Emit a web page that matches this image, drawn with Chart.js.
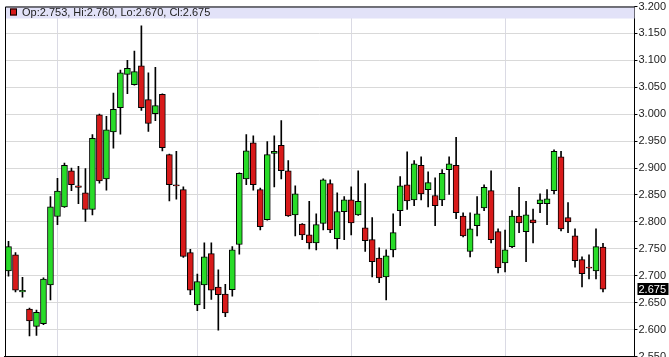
<!DOCTYPE html>
<html>
<head>
<meta charset="utf-8">
<script src="https://cdn.jsdelivr.net/npm/chart.js@4.4.1/dist/chart.umd.min.js"></script>
<style>
  html, body { margin: 0; padding: 0; background: #fff; overflow: hidden; }
  #wrap { position: relative; width: 669px; height: 363px; }
</style>
</head>
<body>
<div id="wrap"><canvas id="chart"></canvas></div>
<script>
// daily candles, oldest first
const open = [
  2.709, 2.739, 2.670, 2.638, 2.606, 2.611, 2.683, 2.810, 2.828, 2.895,
  2.867, 2.854, 2.823, 2.999, 2.880, 2.967, 3.012, 3.074, 3.055, 3.090,
  3.027, 3.001, 3.037, 2.925, 2.869, 2.860, 2.743, 2.646, 2.683, 2.741,
  2.679, 2.666, 2.674, 2.758, 2.880, 2.947, 2.860, 2.804, 2.927, 2.942,
  2.895, 2.813, 2.796, 2.776, 2.761, 2.797, 2.871, 2.769, 2.819, 2.841,
  2.813, 2.789, 2.767, 2.733, 2.698, 2.748, 2.821, 2.869, 2.841, 2.905,
  2.860, 2.849, 2.841, 2.897, 2.905, 2.811, 2.745, 2.793, 2.826, 2.858,
  2.782, 2.724, 2.754, 2.811, 2.782, 2.804, 2.834, 2.834, 2.858, 2.921,
  2.808, 2.774, 2.730, 2.716, 2.709, 2.753
];
const high = [
  2.764, 2.743, 2.697, 2.640, 2.636, 2.696, 2.847, 2.881, 2.909, 2.900,
  2.903, 2.899, 2.962, 3.000, 2.996, 3.039, 3.082, 3.100, 3.117, 3.164,
  3.077, 3.087, 3.038, 2.926, 2.931, 2.865, 2.749, 2.703, 2.761, 2.761,
  2.711, 2.684, 2.754, 2.891, 2.962, 2.960, 2.863, 2.949, 2.960, 2.988,
  2.914, 2.867, 2.797, 2.838, 2.815, 2.880, 2.878, 2.854, 2.847, 2.865,
  2.895, 2.871, 2.808, 2.752, 2.748, 2.815, 2.884, 2.930, 2.914, 2.921,
  2.893, 2.882, 2.897, 2.921, 2.957, 2.817, 2.817, 2.847, 2.869, 2.895,
  2.787, 2.785, 2.821, 2.864, 2.838, 2.824, 2.852, 2.860, 2.934, 2.931,
  2.836, 2.787, 2.735, 2.739, 2.787, 2.760
];
const low = [
  2.699, 2.670, 2.660, 2.588, 2.589, 2.609, 2.655, 2.795, 2.827, 2.858,
  2.834, 2.801, 2.813, 2.872, 2.859, 2.937, 2.963, 3.038, 3.054, 3.007,
  2.968, 2.988, 2.932, 2.839, 2.842, 2.734, 2.665, 2.635, 2.639, 2.656,
  2.599, 2.624, 2.662, 2.740, 2.869, 2.859, 2.785, 2.803, 2.865, 2.880,
  2.810, 2.774, 2.767, 2.750, 2.748, 2.785, 2.780, 2.750, 2.767, 2.776,
  2.812, 2.745, 2.698, 2.687, 2.655, 2.735, 2.793, 2.823, 2.830, 2.841,
  2.828, 2.793, 2.830, 2.851, 2.806, 2.772, 2.735, 2.774, 2.821, 2.761,
  2.705, 2.707, 2.752, 2.780, 2.726, 2.761, 2.817, 2.795, 2.852, 2.783,
  2.780, 2.716, 2.679, 2.694, 2.694, 2.670
];
const close = [
  2.754, 2.673, 2.673, 2.616, 2.632, 2.694, 2.828, 2.857, 2.905, 2.869,
  2.864, 2.823, 2.955, 2.876, 2.971, 3.009, 3.077, 3.085, 3.079, 3.012,
  2.983, 3.016, 2.938, 2.869, 2.867, 2.736, 2.673, 2.689, 2.735, 2.673,
  2.665, 2.631, 2.748, 2.890, 2.932, 2.869, 2.791, 2.925, 2.931, 2.895,
  2.811, 2.852, 2.776, 2.761, 2.795, 2.878, 2.785, 2.819, 2.841, 2.798,
  2.838, 2.765, 2.726, 2.696, 2.737, 2.780, 2.867, 2.839, 2.908, 2.852,
  2.873, 2.830, 2.890, 2.908, 2.817, 2.774, 2.787, 2.815, 2.864, 2.767,
  2.715, 2.748, 2.811, 2.798, 2.813, 2.798, 2.841, 2.843, 2.931, 2.787,
  2.800, 2.728, 2.704, 2.714, 2.754, 2.675
];
// candle slots on the time axis (4 empty ones after the last candle)
const slots = Array.from({ length: 90 }, (_, i) => String(i + 1));
// first session of each month gets a vertical grid line
const monthStarts = [7, 27, 49, 71];

const yMin = 2.55, yMax = 3.2, yStep = 0.05;

const GREEN = '#28dc28';
const RED = '#d81a1a';
const FONT = '"Liberation Sans", Arial, sans-serif';

const wicks = low.map((l, i) => [l, high[i]]);
const bodies = open.map((o, i) => [o, close[i]]);
const bodyColors = open.map((o, i) => close[i] >= o ? GREEN : RED);

const last = open.length - 1;

const chrome = {
  id: 'chrome',
  beforeDatasetsDraw(chart) {
    const { ctx, chartArea: a } = chart;
    ctx.save();
    // quote band at top of the plot
    ctx.fillStyle = '#e2e2f8';
    ctx.fillRect(a.left, a.top, a.right - a.left, 12);
    ctx.fillStyle = close[last] >= open[last] ? GREEN : RED;
    ctx.fillRect(a.left + 5, a.top + 2, 7, 7);
    ctx.strokeStyle = '#000';
    ctx.lineWidth = 1;
    ctx.strokeRect(a.left + 5.5, a.top + 2.5, 6, 6);
    ctx.fillStyle = '#222';
    ctx.font = '11px ' + FONT;
    ctx.textBaseline = 'middle';
    const t = 'Op:' + open[last].toFixed(3) + ', Hi:' + high[last].toFixed(3) +
              ', Lo:' + low[last].toFixed(3) + ', Cl:' + close[last].toFixed(3);
    ctx.fillText(t, a.left + 17, a.top + 6.5);
    ctx.restore();
  },
  afterDraw(chart) {
    const { ctx, chartArea: a, scales } = chart;
    ctx.save();
    ctx.strokeStyle = '#000';
    ctx.lineWidth = 1;
    ctx.beginPath();
    ctx.moveTo(a.left + 0.5, a.bottom);
    ctx.lineTo(a.left + 0.5, a.top + 0.5);
    ctx.lineTo(a.right, a.top + 0.5);
    ctx.stroke();
    // last price tag on the axis
    const y = Math.round(scales.y.getPixelForValue(close[last]));
    ctx.fillStyle = '#000';
    ctx.fillRect(a.right + 3, y - 6, 31, 12);
    ctx.fillStyle = '#fff';
    ctx.font = '11px ' + FONT;
    ctx.textBaseline = 'middle';
    ctx.fillText(close[last].toFixed(3), a.right + 4, y + 0.5);
    ctx.restore();
  }
};

new Chart(document.getElementById('chart'), {
  type: 'bar',
  data: {
    labels: slots,
    datasets: [
      {
        label: 'body',
        data: bodies,
        backgroundColor: bodyColors,
        borderColor: '#000',
        borderWidth: 1,
        borderSkipped: false,
        barThickness: 6,
        grouped: false,
        order: 0
      },
      {
        label: 'range',
        data: wicks,
        backgroundColor: '#000',
        borderWidth: 0,
        barThickness: 1,
        grouped: false,
        order: 1
      }
    ]
  },
  options: {
    responsive: true,
    maintainAspectRatio: false,
    animation: false,
    layout: { padding: { left: 5, right: 2, top: 0, bottom: 0 } },
    plugins: {
      legend: { display: false },
      tooltip: { enabled: false }
    },
    scales: {
      x: {
        offset: true,
        ticks: { display: false, autoSkip: false },
        grid: {
          offset: false,
          drawTicks: false,
          color: ctx => monthStarts.includes(ctx.index) ? '#dadae4' : 'rgba(0,0,0,0)'
        },
        border: { color: '#000', width: 2 }
      },
      y: {
        position: 'right',
        min: yMin,
        max: yMax,
        ticks: {
          stepSize: yStep,
          padding: 1,
          color: '#222',
          font: { family: FONT, size: 11, lineHeight: 1 },
          callback: v => Number(v).toFixed(3)
        },
        grid: {
          color: '#d9d9d9',
          tickColor: '#000',
          tickLength: 3
        },
        border: { color: '#000', width: 1 }
      }
    }
  },
  plugins: [chrome]
});
</script>
</body>
</html>
